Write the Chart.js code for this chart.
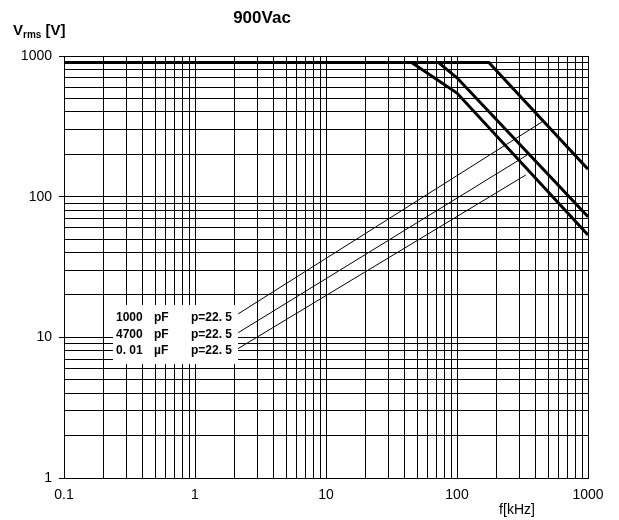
<!DOCTYPE html>
<html>
<head>
<meta charset="utf-8">
<script src="https://cdn.jsdelivr.net/npm/chart.js@4/dist/chart.umd.min.js"></script>
<style>
  html, body { margin: 0; padding: 0; background: #fff; }
  #chart { display: block; }
</style>
</head>
<body>
<canvas id="chart" width="619" height="520"></canvas>
<script>
// Значения (f в кГц, V в вольтах)
const decadesX = [0.1, 1, 10, 100];
const decadesY = [1, 10, 100];
const multipliers = [1, 2, 3, 4, 5, 6, 7, 8, 9];
const xMajor = [0.1, 1, 10, 100, 1000];
const yMajor = [1, 10, 100, 1000];

// Предельные кривые (толстые линии)
const limit1000pF_f = [0.1, 175, 1000];
const limit1000pF_v = [900, 900, 157];
const limit4700pF_f = [0.1, 72, 100, 1000];
const limit4700pF_v = [900, 900, 700, 72];
const limit10nF_f = [0.1, 45, 100, 1000];
const limit10nF_v = [900, 900, 545, 53.5];

// Тонкие линии от подписей
const ref1000pF_f = [2.14, 448];
const ref1000pF_v = [14.7, 341];
const ref4700pF_f = [2.14, 344];
const ref4700pF_v = [10.8, 198];
const ref10nF_f = [1.99, 335];
const ref10nF_v = [8.0, 142.6];

const legendRows = [
    ['1000', 'pF', 'p=22. 5'],
    ['4700', 'pF', 'p=22. 5'],
    ['0. 01', 'µF', 'p=22. 5']
];

const xGrid = [];
decadesX.forEach(d => multipliers.forEach(m => xGrid.push(+(d * m).toPrecision(3))));
xGrid.push(1000);
const yGrid = [];
decadesY.forEach(d => multipliers.forEach(m => yGrid.push(d * m)));
yGrid.push(1000);

function toPoints(xs, ys) {
    return xs.map((x, i) => ({ x: x, y: ys[i] }));
}

const FONT = '"Liberation Sans", Arial, sans-serif';

// Подписи, заголовок и рамка легенды
const textPlugin = {
    id: 'texts',
    afterDatasetsDraw(chart) {
        const c = chart.ctx;
        c.save();

        // белая рамка с подписями
        const bx = 113, by = 305, bw = 125, bh = 59;
        c.fillStyle = '#fff';
        c.fillRect(bx, by, bw, bh);

        c.fillStyle = '#000';
        c.font = 'bold 12px ' + FONT;
        c.textBaseline = 'middle';
        c.textAlign = 'left';
        legendRows.forEach((row, i) => {
            const y = 318 + i * 16.5;
            c.fillText(row[0], 116, y);
            c.fillText(row[1], 154, y);
            c.fillText(row[2], 191, y);
        });

        // заголовок
        c.font = 'bold 17px ' + FONT;
        c.textAlign = 'center';
        c.fillText('900Vac', 262, 18);

        // подпись оси Y: V с индексом rms
        c.textAlign = 'left';
        c.font = 'bold 15px ' + FONT;
        c.fillText('V', 13, 31);
        let w = c.measureText('V').width;
        c.font = 'bold 10px ' + FONT;
        c.fillText('rms', 13 + w, 35);
        w += c.measureText('rms').width;
        c.font = 'bold 15px ' + FONT;
        c.fillText(' [V]', 13 + w, 31);

        // подпись оси X
        c.font = '14px ' + FONT;
        c.textAlign = 'center';
        c.fillText('f[kHz]', 517, 510);

        c.restore();
    }
};

const thick = { borderColor: '#000', borderWidth: 3, pointRadius: 0, fill: false, tension: 0 };
const thin = { borderColor: '#000', borderWidth: 1, pointRadius: 0, fill: false, tension: 0 };

new Chart(document.getElementById('chart').getContext('2d'), {
    type: 'line',
    data: {
        datasets: [
            Object.assign({ label: '1000 pF', data: toPoints(limit1000pF_f, limit1000pF_v) }, thick),
            Object.assign({ label: '4700 pF', data: toPoints(limit4700pF_f, limit4700pF_v) }, thick),
            Object.assign({ label: '0.01 uF', data: toPoints(limit10nF_f, limit10nF_v) }, thick),
            Object.assign({ label: 'ref 1000 pF', data: toPoints(ref1000pF_f, ref1000pF_v) }, thin),
            Object.assign({ label: 'ref 4700 pF', data: toPoints(ref4700pF_f, ref4700pF_v) }, thin),
            Object.assign({ label: 'ref 0.01 uF', data: toPoints(ref10nF_f, ref10nF_v) }, thin)
        ]
    },
    options: {
        responsive: false,
        animation: false,
        devicePixelRatio: 1,
        layout: { padding: { top: 56, right: 31, left: 0, bottom: 0 } },
        plugins: {
            legend: { display: false },
            tooltip: { enabled: false }
        },
        scales: {
            x: {
                type: 'logarithmic',
                min: 0.1,
                max: 1000,
                afterBuildTicks: scale => { scale.ticks = xGrid.map(v => ({ value: v })); },
                afterFit: scale => { scale.height = 42; },
                grid: { color: '#000', lineWidth: 1, drawTicks: false },
                border: { display: true, color: '#000', width: 1 },
                ticks: {
                    autoSkip: false,
                    maxRotation: 0,
                    padding: 9,
                    color: '#000',
                    font: { family: FONT, size: 14 },
                    callback: v => xMajor.includes(v) ? String(v) : ''
                }
            },
            y: {
                type: 'logarithmic',
                min: 1,
                max: 1000,
                afterBuildTicks: scale => { scale.ticks = yGrid.map(v => ({ value: v })); },
                afterFit: scale => { scale.width = 64; },
                grid: {
                    color: '#000',
                    lineWidth: 1,
                    drawTicks: true,
                    tickLength: 5,
                    tickColor: ctx => yMajor.includes(ctx.tick.value) ? '#000' : 'rgba(0,0,0,0)'
                },
                border: { display: true, color: '#000', width: 1 },
                ticks: {
                    autoSkip: false,
                    padding: 7,
                    color: '#000',
                    font: { family: FONT, size: 14 },
                    callback: v => yMajor.includes(v) ? String(v) : ''
                }
            }
        }
    },
    plugins: [textPlugin]
});
</script>
</body>
</html>
